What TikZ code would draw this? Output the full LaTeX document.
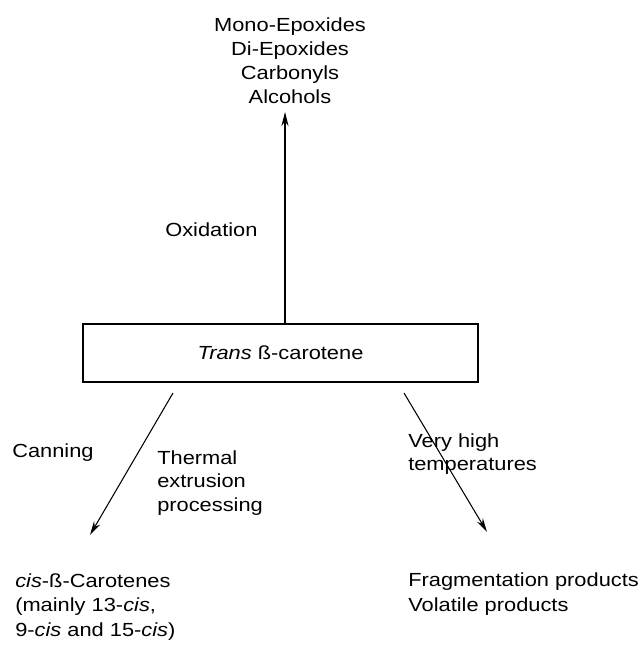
\documentclass[tikz,border=0pt]{standalone}
\usepackage{fontspec}
\setmainfont{Liberation Sans}[FakeStretch=1.15]
\usetikzlibrary{arrows.meta, positioning}

\begin{document}
\begin{tikzpicture}[
    x=0.025cm, y=-0.025cm,
    carobox/.style={draw, line width=0.9pt, minimum width=9.875cm, minimum height=1.45cm, inner sep=0pt, font=\fontsize{13.5}{16}\selectfont},
    lbl/.style={anchor=west, align=left, inner sep=0pt, font=\fontsize{13.5}{16.5}\selectfont},
    prod/.style={align=center, inner sep=0pt, font=\fontsize{13.5}{17}\selectfont},
    arr/.style={-{Stealth[length=10pt, width=5pt]}, line width=0.75pt}
]
    \useasboundingbox (0,0) rectangle (640,649);

    % starting compound
    \node[carobox] (caro) at (280.5,353) {\textit{Trans} ß-carotene};

    % products
    \node[prod] (oxprod) at (290,61) {Mono-Epoxides\\Di-Epoxides\\Carbonyls\\Alcohols};
    \node[lbl, font=\fontsize{13.5}{17.5}\selectfont] (cisprod) at (15,607) {\textit{cis}-ß-Carotenes\\(mainly 13-\textit{cis},\\9-\textit{cis} and 15-\textit{cis})};
    \node[lbl, font=\fontsize{13.5}{17.5}\selectfont] (fragprod) at (408,594) {Fragmentation products\\Volatile products};

    % arrow ends
    \coordinate (uptip) at (285,112);
    \coordinate (cisfrom) at (173,393);
    \coordinate (cisto) at (90,535);
    \coordinate (fragfrom) at (404,393);
    \coordinate (fragto) at (487,532);

    % Arrows
    \draw[arr] (caro.north -| uptip) -- (uptip);
    \draw[arr] (cisfrom) -- (cisto);
    \draw[arr] (fragfrom) -- (fragto);

    % Labels
    \node[lbl] (oxlbl) at (165,230) {Oxidation};
    \node[lbl] (canlbl) at (12,453) {Canning};
    \node[lbl] (extlbl) at (157,483) {Thermal\\extrusion\\processing};
    \node[lbl] (hotlbl) at (408,454) {Very high\\temperatures};
\end{tikzpicture}
\end{document}
